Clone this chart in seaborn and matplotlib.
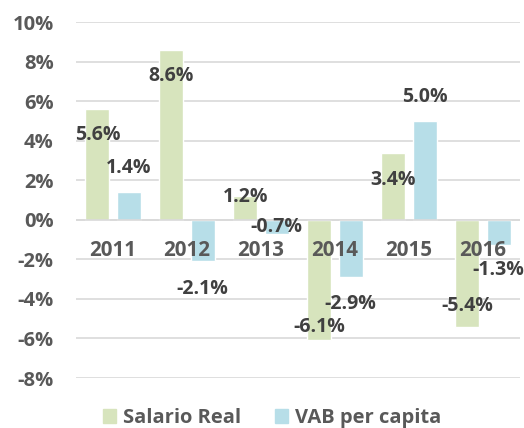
import matplotlib
matplotlib.use("Agg")
import matplotlib.pyplot as plt
import matplotlib.ticker as mticker
import pandas as pd
import seaborn as sns

years = ["2011", "2012", "2013", "2014", "2015", "2016"]
series_names = ["Salario Real", "VAB per capita"]
salario_real = [0.056, 0.086, 0.012, -0.061, 0.034, -0.054]
vab_per_capita = [0.014, -0.021, -0.007, -0.029, 0.050, -0.013]

# label nudges in pixels (Excel placed them by hand), positive = up
salario_dy = [-26, -26, -1, 13, -27, 21]
vab_dy = [24, -28, 7, -27, 24, -25]

GREEN = "#d7e4bd"
BLUE = "#b7dee8"
TICK_GREY = "#595959"
LABEL_GREY = "#404040"

sns.set_style("white")
plt.rcParams["font.family"] = ["Open Sans", "DejaVu Sans"]

df = pd.DataFrame({
    "year": years * 2,
    "series": [series_names[0]] * len(years) + [series_names[1]] * len(years),
    "value": salario_real + vab_per_capita,
})

fig = plt.figure(figsize=(5.24, 4.28), dpi=100)
ax = fig.add_axes([76 / 524, 1 - 378 / 428, 444 / 524, 356 / 428])

sns.barplot(data=df, x="year", y="value", hue="series", hue_order=series_names,
            palette=[GREEN, BLUE], width=0.84, gap=0.23, saturation=1,
            errorbar=None, ax=ax, legend=False, zorder=3)

ax.set_ylim(-0.08, 0.10)
ax.set_xlim(-0.5, len(years) - 0.5)
ax.yaxis.set_major_locator(mticker.MultipleLocator(0.02))
ax.yaxis.set_major_formatter(mticker.FuncFormatter(lambda v, _: f"{v * 100:.0f}%"))
ax.grid(axis="y", color="#d9d9d9", linewidth=1.2, zorder=0)
ax.set_axisbelow(True)
ax.set_xlabel("")
ax.set_ylabel("")
ax.set_xticklabels([])

for side in ["left", "right", "top", "bottom"]:
    ax.spines[side].set_visible(False)
ax.axhline(0, color="#d9d9d9", linewidth=1.2, zorder=4)

ax.tick_params(axis="y", length=0, pad=16, labelsize=14.5, labelcolor=TICK_GREY)
ax.tick_params(axis="x", length=0)
for lbl in ax.get_yticklabels():
    lbl.set_fontweight("bold")

# category names sit just under the zero line, on top of the bars
for i, year in enumerate(years):
    ax.annotate(year, (i, 0), xytext=(0, -31), textcoords="offset pixels",
                ha="center", va="center", fontsize=14.8, fontweight="bold",
                color=TICK_GREY, zorder=6)

for container, values, nudges in zip(ax.containers, [salario_real, vab_per_capita], [salario_dy, vab_dy]):
    for bar, val, dy in zip(container, values, nudges):
        ax.annotate(f"{val * 100:.1f}%", (bar.get_x() + bar.get_width() / 2, val),
                    xytext=(0, dy), textcoords="offset pixels", ha="center", va="center",
                    fontsize=14, fontweight="bold", color=LABEL_GREY, zorder=5)

handles = [plt.Rectangle((0, 0), 1, 1, color=c) for c in [GREEN, BLUE]]
fig.legend(handles, series_names, loc="center", bbox_to_anchor=(272 / 524, 1 - 418 / 428),
           ncol=2, frameon=False, handlelength=0.65, handleheight=0.65, handletextpad=0.35,
           columnspacing=1.7, prop={"size": 14.5, "weight": "bold"}, labelcolor=TICK_GREY)

fig.savefig("out.png", dpi=100)
